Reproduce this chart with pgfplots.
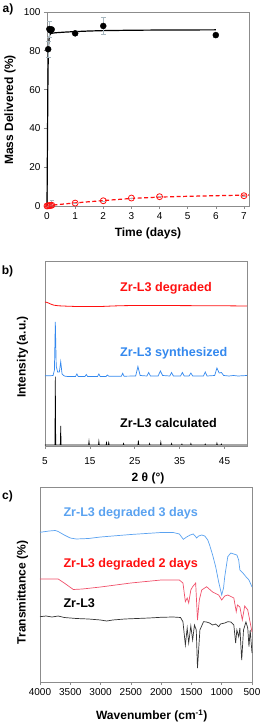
\documentclass[border=0pt]{standalone}
\usepackage{fontspec}
\setmainfont{Liberation Sans}
\usepackage{pgfplots}
\pgfplotsset{compat=1.18}
\definecolor{redA}{HTML}{FF1010}
\definecolor{blueB}{HTML}{3388EE}
\definecolor{blueC}{HTML}{5AA2F0}
\definecolor{redC}{HTML}{F0506A}
\definecolor{errc}{HTML}{A8B8C0}
\definecolor{framec}{HTML}{8C8C8C}
\pgfplotsset{
  base/.style={
    scale only axis,
    axis line style={framec, line width=0.8pt},
    tick style={framec, line width=0.6pt},
    tick align=outside,
    major tick length=3pt,
    tick label style={font=\fontsize{10}{12}\selectfont},
    /pgf/number format/assume math mode=true,
    /pgf/number format/1000 sep={},
    scaled ticks=false,
    clip=false,
  }
}
\newcommand{\lbl}{\bfseries\fontsize{12}{14}\selectfont}
\newcommand{\serlbl}{\bfseries\fontsize{12.6}{14}\selectfont}
\begin{document}
\begin{tikzpicture}
\path[use as bounding box] (0pt,0pt) rectangle (262pt,724pt);

% ---------------- panel a ----------------
\begin{axis}[base, at={(47pt,518pt)}, anchor=south west, width=202pt, height=194pt,
  xmin=0, xmax=7.18, ymin=0, ymax=100,
  xtick={0,1,...,7}, ytick={0,20,...,100},
  ytick pos=left, xtick pos=bottom]
\addplot[black, line width=1.2pt] coordinates {
(0,0) (0.01,20) (0.02,40) (0.03,60) (0.045,78) (0.06,84) (0.08,87) (0.1,88.3)
(0.15,89) (0.3,89.3) (0.6,89.6) (1,89.9) (1.5,90.2) (2,90.4) (3,90.6) (4,90.7) (6,90.8)};
\addplot[redA, line width=1.2pt, dash pattern=on 4pt off 2.5pt] coordinates {
(0,0) (0.17,0.4) (1,1.6) (2,2.8) (3,3.9) (4,4.6) (5,5.0) (6,5.3) (7,5.6) (7.18,5.7)};
\addplot[only marks, mark=*, mark size=3pt, black,
  error bars/.cd, y dir=both, y explicit,
  error bar style={errc, line width=0.6pt},
  error mark options={errc, rotate=90, mark size=2.5pt}] coordinates {
(0.042,80.8) +- (0,4)
(0.083,91.2) +- (0,4)
(0.125,90.5) +- (0,1)
(0.167,91.0) +- (0,1)
(1,89) +- (0,1)
(2,92.8) +- (0,4.5)
(6,88.1) +- (0,1)};
\addplot[only marks, mark=o, mark size=3pt, redA, mark options={fill=white, line width=0.8pt},
  error bars/.cd, y dir=plus, y explicit,
  error bar style={errc, line width=0.6pt},
  error mark options={errc, rotate=90, mark size=2pt}] coordinates {
(0,0) +- (0,0) (0.04,0.1) +- (0,0) (0.08,0.2) +- (0,0) (0.125,0.3) +- (0,0) (0.17,0.4) +- (0,2.5)
(1,1.5) +- (0,0) (2,2.7) +- (0,0) (3,4.1) +- (0,0) (4,4.8) +- (0,0) (7,5.3) +- (0,0)};
\end{axis}

% ---------------- panel b ----------------
\begin{axis}[base, at={(45pt,278pt)}, anchor=south west, width=202pt, height=185pt,
  xmin=5, xmax=50, ymin=0, ymax=185, xtick={5,15,...,45}, ytick=\empty, xtick pos=bottom,
  xticklabel style={yshift=-5pt}]
\addplot[redA, line width=0.8pt] coordinates {
(5,144) (5.5,143.5) (6,142.5) (6.5,141.5) (7,140.8) (8,140.2) (10,139.8) (12,139.5) (15,139.4)
(18,139.6) (20,140) (22,140.3) (25,140.5) (28,140.5) (30,140.4) (35,140.4) (40,140.3) (45,140.2) (50,140)};
\addplot[blueB, line width=0.7pt] coordinates {
(5,70.3) (6,70.2) (6.8,70.5) (7.1,76) (7.3,124) (7.5,80) (7.8,74) (8.2,74) (8.5,84.3) (8.8,72)
(9.3,70) (10,69.5) (11.8,69.5) (12.1,72) (12.4,69.5) (13.9,69.5) (14.2,71.5) (14.5,69.5)
(16.7,69.5) (17,72) (17.3,69.5) (18.6,69.5) (18.9,71) (19.2,69.8) (22,69.7) (22.3,72.7) (22.6,69.8)
(25.2,70) (25.7,79.5) (26.2,70.5) (27.7,70) (28.1,73.5) (28.5,70) (30.2,70) (30.7,75) (31.2,70.5)
(32.8,70) (33.2,73.5) (33.6,70) (35.2,70) (35.6,73.5) (36,70) (37.1,70) (37.5,73) (37.9,70)
(40.3,70) (40.7,74) (41.1,70) (42.8,70.5) (43.3,78) (43.8,73) (44.3,73.5) (44.8,70.5) (46,70)
(47,70.5) (48,70) (50,70.5)};
\addplot[black, line width=0.6pt] coordinates {
(5,1) (7.2,1) (7.3,69.3) (7.4,1) (8.4,1) (8.5,20) (8.6,1) (14.7,1) (14.8,5) (14.9,1)
(16.9,1) (17,5) (17.1,1) (18.6,1) (18.7,3.5) (18.8,1) (19.1,1) (19.2,3.5) (19.3,1)
(22.4,1) (22.5,2.5) (22.6,1) (25.7,1) (25.8,5.5) (25.9,1) (28.2,1) (28.3,2.5) (28.4,1)
(30.7,1) (30.8,4) (30.9,1) (33.1,1) (33.2,2.5) (33.3,1) (35.4,1) (35.5,2) (35.6,1)
(37.4,1) (37.5,2.5) (37.6,1) (40.6,1) (40.7,2) (40.8,1) (43.2,1) (43.3,3) (43.4,1)
(44.2,1) (44.3,2) (44.4,1) (50,1)};
\end{axis}

% ---------------- panel c ----------------
\begin{axis}[base, at={(40pt,42pt)}, anchor=south west, width=212pt, height=195pt,
  xmin=500, xmax=4000, x dir=reverse, ymin=0, ymax=195,
  xtick={500,1000,...,4000}, ytick=\empty, xtick pos=bottom]
\addplot[blueC, line width=0.7pt] coordinates {
(4000,149.7) (3850,151) (3750,151.5) (3700,150.5) (3600,147) (3500,144) (3400,143) (3200,143.5)
(3000,145) (2500,147.5) (2000,149.5) (1800,149.5) (1700,148) (1634,142.7) (1580,145) (1520,147)
(1469,148) (1440,146) (1413,144) (1380,146) (1330,147) (1280,146) (1230,142) (1200,137)
(1150,127) (1100,115.3) (1050,100) (1000,87) (970,94) (950,105.3) (900,125.3) (850,129)
(800,128) (750,127) (720,122) (700,112) (650,109) (600,105.3) (550,102) (500,95)};
\addplot[redC, line width=0.7pt] coordinates {
(4000,103) (3850,103) (3700,103) (3600,99) (3450,92.5) (3300,93) (3000,95) (2500,99)
(2000,102) (1700,102) (1640,99) (1600,80.3) (1570,84) (1545,79) (1510,92) (1480,95.3)
(1430,99) (1400,62) (1370,82) (1330,92) (1250,95.3) (1150,90) (1050,87) (1000,82) (950,86)
(900,87) (800,84) (760,70.3) (740,77) (700,75) (660,62) (620,76) (570,72) (500,50)};
\addplot[black!80, line width=0.7pt] coordinates {
(4000,65.3) (3900,66) (3800,65) (3700,66) (3600,64.5) (3400,63.5) (3200,63) (3000,62)
(2900,61) (2800,62) (2600,63) (2400,63.5) (2200,64) (2000,64.7) (1800,65) (1680,64.5)
(1640,60.3) (1600,37) (1570,54) (1545,39) (1510,56) (1480,42) (1450,57) (1420,52)
(1400,14) (1360,52) (1300,60.3) (1250,60) (1200,59) (1150,57) (1100,58) (1050,55.3)
(1020,58) (950,59) (900,60.3) (850,60) (800,57) (770,39) (750,52) (720,45.3) (700,54)
(670,22) (640,52) (600,60) (570,54) (550,35.3) (530,52) (500,29)};
\end{axis}

% ---------------- labels ----------------
\node[font=\lbl] at (8pt,715pt) {a)};
\node[font=\lbl] at (7.5pt,452.3pt) {b)};
\node[font=\lbl] at (7.5pt,227.3pt) {c)};

\node[font=\lbl, rotate=90] at (10pt,614pt) {Mass Delivered (\%)};
\node[font=\lbl] at (148pt,491pt) {Time (days)};

\node[font=\lbl, rotate=90] at (22.5pt,367pt) {Intensity (a.u.)};
\node[font=\lbl] at (148pt,246pt) {2 θ (°)};
\node[font=\serlbl, text=redA, anchor=west, inner sep=0pt] at (120pt,435.5pt) {Zr-L3 degraded};
\node[font=\serlbl, text=blueB, anchor=west, inner sep=0pt] at (120pt,370.5pt) {Zr-L3 synthesized};
\node[font=\serlbl, text=black, anchor=west, inner sep=0pt] at (120pt,300.5pt) {Zr-L3 calculated};

\node[font=\lbl, rotate=90] at (22.5pt,131.5pt) {Transmittance (\%)};
\node[font=\lbl] at (151.7pt,8pt) {Wavenumber (cm\textsuperscript{-1})};
\node[font=\serlbl, text=blueC, anchor=west, inner sep=0pt] at (63.3pt,210.5pt) {Zr-L3 degraded 3 days};
\node[font=\serlbl, text=redA, anchor=west, inner sep=0pt] at (63.3pt,160pt) {Zr-L3 degraded 2 days};
\node[font=\serlbl, text=black, anchor=west, inner sep=0pt] at (63.3pt,121pt) {Zr-L3};
\end{tikzpicture}
\end{document}
